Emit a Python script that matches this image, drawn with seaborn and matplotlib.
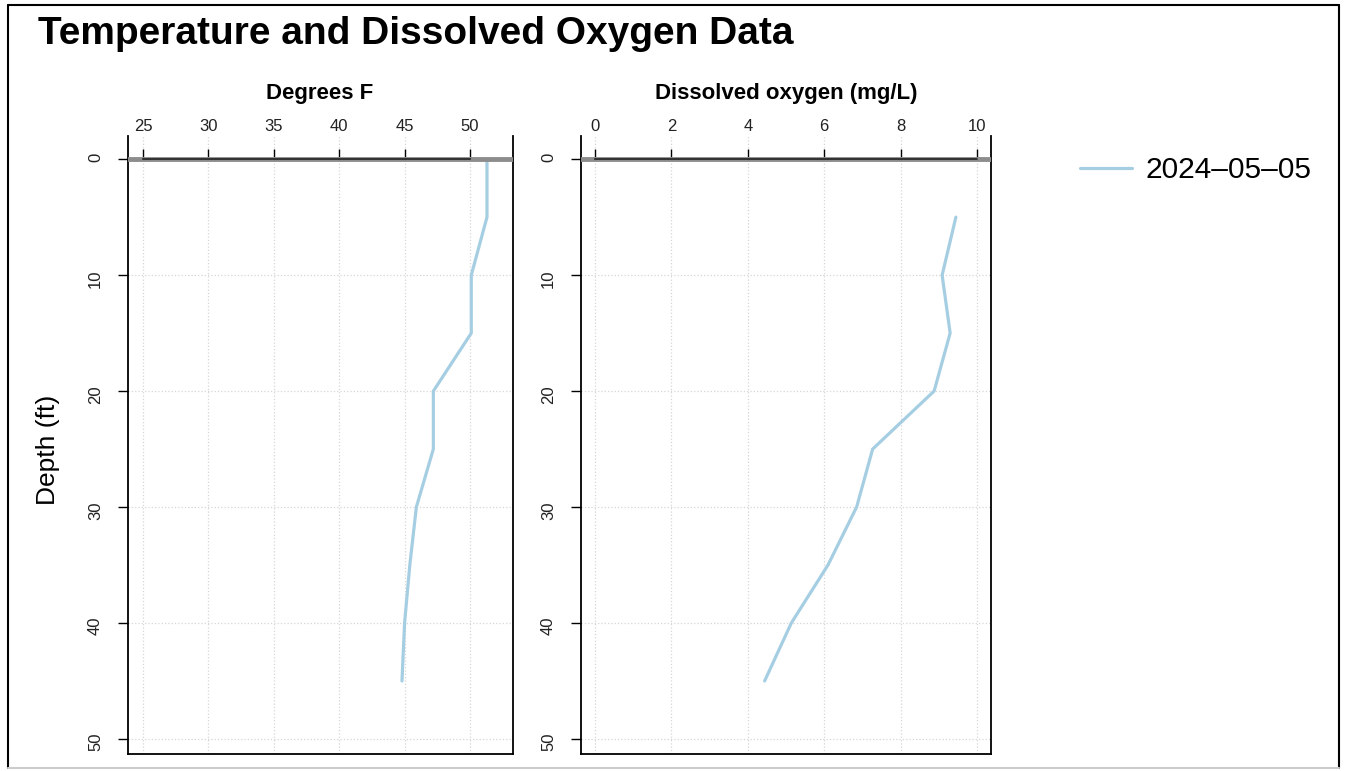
import pandas as pd
import matplotlib
matplotlib.use("Agg")
import matplotlib.pyplot as plt
import seaborn as sns
from matplotlib.lines import Line2D

# values
sample_date = "2024-05-05"
temp_depth = [0, 5, 10, 15, 20, 25, 30, 35, 40, 45]
temp_f = [51.3, 51.3, 50.1, 50.1, 47.2, 47.2, 45.9, 45.4, 45.0, 44.8]
do_depth = [5, 10, 15, 20, 25, 30, 35, 40, 45]
do_mgl = [9.45, 9.09, 9.30, 8.88, 7.27, 6.85, 6.10, 5.14, 4.44]
temp_ticks = [25, 30, 35, 40, 45, 50]
do_ticks = [0, 2, 4, 6, 8, 10]
depth_ticks = [0, 10, 20, 30, 40, 50]

line_color = "#a6cee3"

sns.set_theme(style="white")
plt.rcParams["font.family"] = ["Liberation Sans", "DejaVu Sans"]
plt.rcParams["text.color"] = "black"

W, H = 1345, 771
fig = plt.figure(figsize=(W / 100, H / 100), dpi=100)
ax1 = fig.add_axes([128 / W, 1 - 754 / H, 385 / W, 618 / H])
ax2 = fig.add_axes([581 / W, 1 - 754 / H, 410 / W, 618 / H])

temp_df = pd.DataFrame({"depth": temp_depth, "value": temp_f, "date": sample_date})
do_df = pd.DataFrame({"depth": do_depth, "value": do_mgl, "date": sample_date})

sns.lineplot(data=temp_df, x="value", y="depth", hue="date", palette=[line_color],
             sort=False, orient="y", ax=ax1, lw=2.3)
sns.lineplot(data=do_df, x="value", y="depth", hue="date", palette=[line_color],
             sort=False, orient="y", ax=ax2, lw=2.3, legend=False)

handles, labels = ax1.get_legend_handles_labels()
ax1.get_legend().remove()


def style_panel(ax, xlim, xticks):
    ax.set_xlim(*xlim)
    ax.set_ylim(51.3, -2.0)
    ax.set_xticks(xticks)
    ax.set_yticks(depth_ticks)
    ax.xaxis.set_ticks_position("top")
    ax.spines["top"].set_position(("data", 0))
    ax.spines["top"].set_bounds(xticks[0], xticks[-1])
    ax.spines["top"].set_color("#222222")
    ax.spines["top"].set_linewidth(1.2)
    ax.spines["top"].set_linestyle((0, (4, 1)))
    ax.spines["top"].set_zorder(4)
    for s in ["left", "right", "bottom"]:
        ax.spines[s].set_color("black")
        ax.spines[s].set_linewidth(1.3)
    ax.axhline(0, color="#8c8c8c", lw=3.5, zorder=3)
    ax.grid(True, color="#d6d6d6", ls=":", lw=0.9)
    ax.tick_params(axis="both", direction="out", length=7, width=1, color="black",
                   labelsize=12, labelcolor="#222222", pad=11)
    ax.tick_params(axis="x", top=True, bottom=False, labeltop=True, labelbottom=False)
    ax.tick_params(axis="y", left=True, right=False, labelrotation=90)
    ax.set_xlabel("")
    ax.set_ylabel("")


style_panel(ax1, (23.85, 53.29), temp_ticks)
style_panel(ax2, (-0.37, 10.37), do_ticks)

fig.text(38 / W, 1 - 34 / H, "Temperature and Dissolved Oxygen Data",
         fontsize=28, fontweight="bold", va="center", ha="left")
fig.text(320 / W, 1 - 93 / H, "Degrees F", fontsize=16, fontweight="bold",
         ha="center", va="center")
fig.text(786 / W, 1 - 93 / H, "Dissolved oxygen (mg/L)", fontsize=16,
         fontweight="bold", ha="center", va="center")
fig.text(48 / W, 1 - 450 / H, "Depth (ft)", fontsize=19, rotation=90,
         ha="center", va="center")

fig.legend(handles, [l.replace("-", "\u2013") for l in labels], loc="center left",
           bbox_to_anchor=(1080 / W, 1 - 170 / H), frameon=False, fontsize=21.5,
           handlelength=1.75, handletextpad=0.45, borderpad=0, borderaxespad=0)

# outer frame
fx = [8 / W, 1339 / W]
fy = [1 - 5 / H, 1 - 768 / H]
for xs, ys, c in [([fx[0], fx[0]], fy, "black"), ([fx[1], fx[1]], fy, "black"),
                  (fx, [fy[0], fy[0]], "black"), (fx, [fy[1], fy[1]], "#cccccc")]:
    fig.add_artist(Line2D(xs, ys, transform=fig.transFigure, color=c, lw=1.5))

fig.savefig("out.png", dpi=100)
